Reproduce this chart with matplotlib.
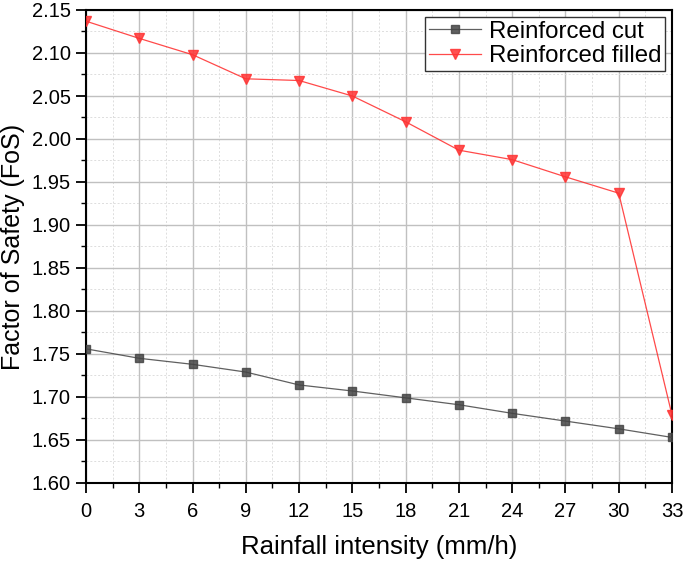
import matplotlib
matplotlib.use("Agg")
import matplotlib.pyplot as plt
from matplotlib.ticker import MultipleLocator

plt.rcParams['font.family'] = ['Liberation Sans', 'DejaVu Sans']

rain = [0, 3, 6, 9, 12, 15, 18, 21, 24, 27, 30, 33]
cut = [1.756, 1.745, 1.738, 1.729, 1.714, 1.707, 1.699, 1.691, 1.681, 1.672, 1.663, 1.653]
filled = [2.137, 2.117, 2.098, 2.070, 2.068, 2.050, 2.020, 1.987, 1.976, 1.956, 1.937, 1.679]

fig = plt.figure(figsize=(6.85, 5.61), dpi=100)
ax = fig.add_axes([86/685, 1-483/561, (672-86)/685, (483-10)/561])

ax.plot(rain, cut, color='#444444', lw=0.9, marker='s', ms=5.5,
        mfc='#444444', mec='#444444', label='Reinforced cut', alpha=0.85, zorder=3)
ax.plot(rain, filled, color='#ff2a2a', lw=0.9, marker='v', ms=7,
        mfc='#ff3333', mec='#ff3333', label='Reinforced filled', alpha=0.85, zorder=3)

ax.set_xlim(0, 33)
ax.set_ylim(1.60, 2.15)
ax.xaxis.set_major_locator(MultipleLocator(3))
ax.xaxis.set_minor_locator(MultipleLocator(1.5))
ax.yaxis.set_major_locator(MultipleLocator(0.05))
ax.yaxis.set_minor_locator(MultipleLocator(0.025))
ax.yaxis.set_major_formatter(matplotlib.ticker.FormatStrFormatter('%.2f'))

ax.grid(which='major', color='#c0c0c0', lw=1.0, ls='-')
ax.grid(which='minor', color='#dddddd', lw=0.7, ls=(0, (2, 2)))
ax.set_axisbelow(True)

ax.tick_params(which='major', direction='out', length=7, width=1.3, labelsize=14.5, colors='black')
ax.tick_params(axis='x', which='major', pad=6.5)
ax.tick_params(axis='y', which='major', pad=4)
ax.tick_params(which='minor', direction='out', length=3.6, width=1.0)
for s in ax.spines.values():
    s.set_linewidth(1.5)
    s.set_color('black')

ax.set_xlabel('Rainfall intensity (mm/h)', fontsize=18.5, labelpad=10)
ax.set_ylabel('Factor of Safety (FoS)', fontsize=18, labelpad=5)

leg = ax.legend(loc='upper right', fontsize=17.3, fancybox=False, framealpha=1,
                edgecolor='#333333', borderpad=0.15, handlelength=2.2,
                labelspacing=0.1, handletextpad=0.3, borderaxespad=0.3)
leg.get_frame().set_linewidth(1.0)

fig.savefig('out.png', dpi=100)
